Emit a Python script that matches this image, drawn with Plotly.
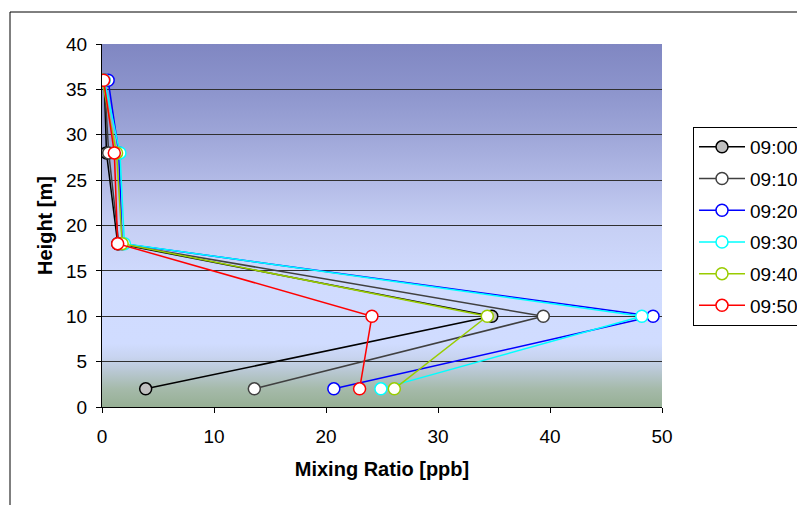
import base64
import plotly.graph_objects as go

heights = [2, 10, 18, 28, 36]
times = ["09:00", "09:10", "09:20", "09:30", "09:40", "09:50"]
mix_0900 = [3.9, 34.8, 1.4, 0.4, 0.2]
mix_0910 = [13.6, 39.4, 1.5, 0.6, 0.2]
mix_0920 = [20.7, 49.2, 1.8, 1.5, 0.55]
mix_0930 = [24.9, 48.2, 2.0, 1.6, 0.2]
mix_0940 = [26.1, 34.4, 1.8, 1.3, 0.0]
mix_0950 = [23.0, 24.1, 1.4, 1.1, 0.15]
series = [mix_0900, mix_0910, mix_0920, mix_0930, mix_0940, mix_0950]

line_colors = ["#000000", "#404040", "#0000ff", "#00ffff", "#99cc00", "#ff0000"]
fill_colors = ["#c0c0c0", "#ffffff", "#ffffff", "#ffffff", "#ffffff", "#ffffff"]

FONT = "Liberation Sans, Arial, sans-serif"

fig = go.Figure()
for i, (t, vals) in enumerate(zip(times, series)):
    fig.add_trace(go.Scatter(
        x=vals, y=heights, mode="lines+markers", name=t, legendgroup=t,
        line=dict(color=line_colors[i], width=1.5),
        marker=dict(symbol="circle", size=12, color=fill_colors[i],
                    line=dict(color=line_colors[i], width=1.5)),
    ))

# gradient background (height -> rgb), drawn as an SVG linear gradient image
stops = [
    (0.0, (150, 175, 148)),
    (2.0, (165, 186, 170)),
    (4.0, (185, 200, 212)),
    (5.5, (200, 212, 240)),
    (7.0, (208, 220, 255)),
    (14.0, (208, 219, 254)),
    (20.0, (198, 207, 244)),
    (25.0, (178, 186, 230)),
    (30.0, (158, 166, 216)),
    (35.0, (140, 148, 204)),
    (40.0, (128, 135, 194)),
]
stop_xml = "".join(
    "<stop offset='%.4f' stop-color='rgb(%d,%d,%d)'/>" % ((40 - h) / 40, *c)
    for h, c in sorted(stops, key=lambda s: -s[0])
)
svg = ("<svg xmlns='http://www.w3.org/2000/svg' width='100' height='400' viewBox='0 0 100 400' "
       "preserveAspectRatio='none'><defs><linearGradient id='g' x1='0' y1='0' x2='0' y2='1'>"
       + stop_xml + "</linearGradient></defs><rect x='0' y='0' width='100' height='400' fill='url(#g)'/></svg>")
svg_uri = "data:image/svg+xml;base64," + base64.b64encode(svg.encode()).decode()

# outer chart frame
L, R, T, B = 102, 135, 44, 98
W, H = 797, 505
pw, ph = W - L - R, H - T - B
shapes = [dict(type="rect", xref="paper", yref="paper",
               x0=(10 - L) / pw, x1=(W + 20 - L) / pw,
               y0=(H - B - (H + 20)) / ph, y1=(H - B - 12) / ph,
               line=dict(color="#000000", width=1), fillcolor="rgba(0,0,0,0)", layer="below")]

fig.update_layout(
    width=W, height=H,
    margin=dict(l=L, r=R, t=T, b=B, autoexpand=False),
    paper_bgcolor="white", plot_bgcolor="white",
    font=dict(family=FONT, size=19, color="#000000"),
    shapes=shapes,
    images=[dict(source=svg_uri, xref="paper", yref="paper", x=0, y=1, sizex=1, sizey=1,
                 xanchor="left", yanchor="top", sizing="stretch", layer="below")],
    showlegend=True,
    legend=dict(x=(693 - L) / pw, y=(H - B - 127) / ph, xanchor="left", yanchor="top",
                bordercolor="#000000", borderwidth=1, bgcolor="white",
                font=dict(family=FONT, size=19), tracegroupgap=4, itemwidth=46,
                traceorder="grouped"),
    xaxis=dict(range=[0, 50], tickvals=[0, 10, 20, 30, 40, 50], showgrid=False, zeroline=False,
               showline=True, linecolor="#000000", linewidth=1, ticks="outside", ticklen=5,
               tickcolor="#000000", tickfont=dict(size=19), ticklabelstandoff=7,
               title=dict(text="<b>Mixing Ratio [ppb]</b>", font=dict(size=20), standoff=16)),
    yaxis=dict(range=[0, 40], tickvals=[0, 5, 10, 15, 20, 25, 30, 35, 40], showgrid=True,
               gridcolor="#303030", gridwidth=1, zeroline=False,
               showline=True, linecolor="#000000", linewidth=1, ticks="outside", ticklen=5,
               tickcolor="#000000", tickfont=dict(size=19), ticklabelstandoff=5,
               title=dict(text="<b>Height [m]</b>", font=dict(size=20), standoff=8)),
)

fig.write_html("out.html")
